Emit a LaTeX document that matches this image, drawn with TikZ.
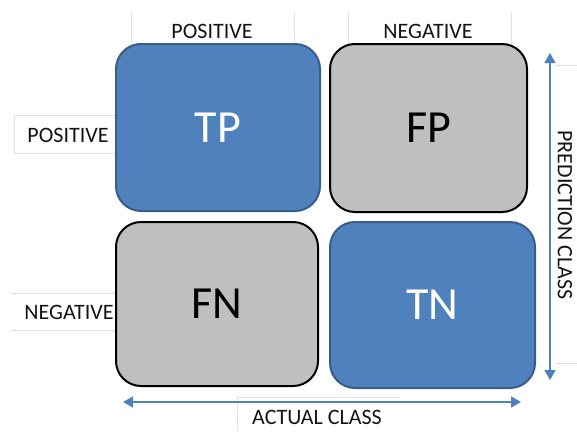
\documentclass[tikz,border=0pt]{standalone}
\usepackage{fontspec}
\setmainfont{Carlito}
\usetikzlibrary{arrows.meta}
\definecolor{cblue}{RGB}{79,129,189}
\definecolor{cblueedge}{RGB}{56,93,138}
\definecolor{cgray}{RGB}{191,191,191}
\definecolor{faint}{RGB}{225,225,225}
\definecolor{txt}{RGB}{20,20,20}
\tikzset{
  cell/.style={rounded corners=25pt, line width=2pt, inner sep=0pt},
  bluecell/.style={cell, fill=cblue, draw=cblueedge, text=white},
  graycell/.style={cell, fill=cgray, draw=black, text=black},
  big/.style={font=\fontsize{46}{46}\selectfont},
  lbl/.style={font=\fontsize{22}{22}\selectfont, text=txt, inner sep=0pt},
  faintline/.style={draw=faint, line width=0.8pt},
  axis/.style={draw=cblue, line width=1.5pt, {Triangle[width=11pt,length=10pt]}-{Triangle[width=11pt,length=10pt]}}
}
\begin{document}
\begin{tikzpicture}[x=1pt,y=-1pt]
\useasboundingbox (0,0) rectangle (577,431);
% faint label frames
\draw[faintline] (131,60) -- (131,12) (294,12) -- (294,60);
\draw[faintline] (348,60) -- (348,12) (511,12) -- (511,60);
\draw[faintline] (130,115) -- (14,115) -- (14,153) -- (130,153);
\draw[faintline] (11,293) -- (130,293) (11,330) -- (130,330);
\draw[faintline] (237,431) -- (237,397) -- (400,397);
\draw[faintline] (555,65) -- (577,65) (555,363) -- (577,363);
% labels
\node[lbl] (colpos) at (212,31) {POSITIVE};
\node[lbl] (colneg) at (428,31) {NEGATIVE};
\node[lbl] (rowpos) at (68,135) {POSITIVE};
\node[lbl] (rowneg) at (69,312) {NEGATIVE};
\node[lbl] (actual) at (317,417) {ACTUAL CLASS};
\node[lbl, rotate=-90] (pred) at (565,215) {PREDICTION CLASS};
% cells
\node[bluecell, big, minimum width=204pt, minimum height=167pt] (tp) at (218,127.5) {TP};
\node[graycell, big, minimum width=197pt, minimum height=168pt] (fp) at (428.5,128) {FP};
\node[graycell, big, minimum width=202pt, minimum height=164pt] (fn) at (217,304) {FN};
\node[bluecell, big, minimum width=205pt, minimum height=166pt] (tn) at (432.5,305) {TN};
% axes
\coordinate (hl) at (123,402);
\coordinate (hr) at (521,402);
\coordinate (vt) at (550,53);
\coordinate (vb) at (550,380);
\draw[axis] (hl) -- (hr);
\draw[axis] (vt) -- (vb);
\end{tikzpicture}
\end{document}
